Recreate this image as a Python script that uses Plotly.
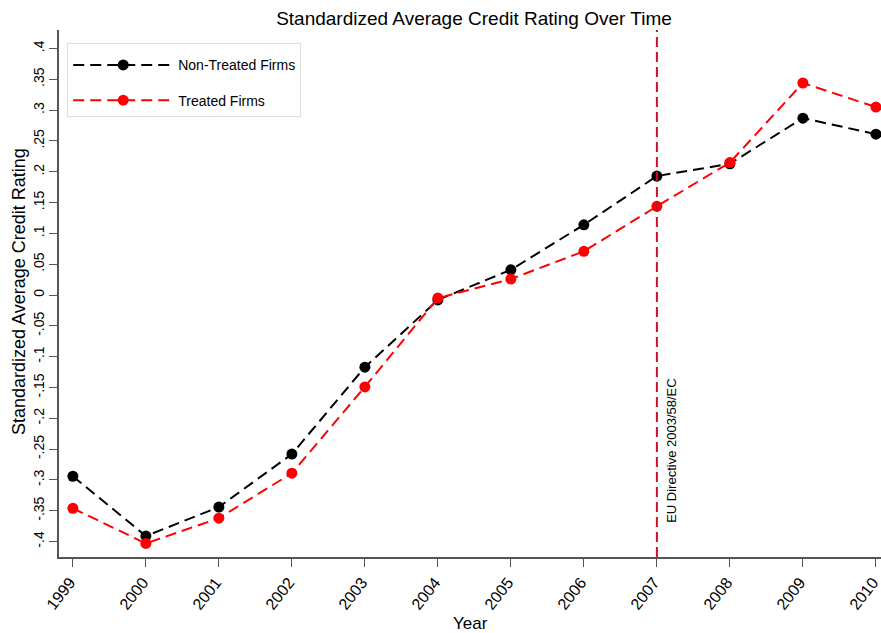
import plotly.graph_objects as go

# Data
years = [1999, 2000, 2001, 2002, 2003, 2004, 2005, 2006, 2007, 2008, 2009, 2010]
non_treated = [-0.294, -0.391, -0.344, -0.258, -0.117, -0.008, 0.041, 0.114, 0.193, 0.213, 0.287, 0.261]
treated = [-0.346, -0.403, -0.362, -0.289, -0.149, -0.005, 0.026, 0.071, 0.144, 0.215, 0.344, 0.305]

y_tickvals = [0.4, 0.35, 0.3, 0.25, 0.2, 0.15, 0.1, 0.05, 0, -0.05, -0.1, -0.15, -0.2, -0.25, -0.3, -0.35, -0.4]
y_ticktext = [".4", ".35", ".3", ".25", ".2", ".15", ".1", ".05", "0", "-.05", "-.1", "-.15", "-.2", "-.25", "-.3", "-.35", "-.4"]

event_year = 2007
event_label = "EU Directive 2003/58/EC"

FONT = "Liberation Sans, Arial, sans-serif"
AXIS_COLOR = "#555555"

fig = go.Figure()

fig.add_trace(go.Scatter(
    x=years, y=non_treated, mode="lines+markers", name="Non-Treated Firms",
    legendgroup="a",
    line=dict(color="black", width=2, dash="11px,6px"),
    marker=dict(color="black", size=11),
))
fig.add_trace(go.Scatter(
    x=years, y=treated, mode="lines+markers", name="Treated Firms",
    legendgroup="b",
    line=dict(color="#ff0000", width=2, dash="11px,6px"),
    marker=dict(color="#ff0000", size=11),
))

# event line
fig.add_shape(
    type="line", x0=event_year, x1=event_year, y0=0, y1=1, yref="paper",
    line=dict(color="#c8102e", width=2, dash="10px,5px"),
)
fig.add_annotation(
    x=event_year, y=-0.373, text=event_label, showarrow=False, textangle=-90,
    xanchor="left", yanchor="bottom", xshift=5,
    font=dict(size=13, color="black", family=FONT),
)

# axis titles
fig.add_annotation(
    x=(470 - 59) / 822, xref="paper", y=-(623 - 557) / 527, yref="paper",
    text="Year", showarrow=False, font=dict(size=17), xanchor="center", yanchor="middle",
)
fig.add_annotation(
    x=-(59 - 19) / 822, xref="paper", y=(557 - 292) / 527, yref="paper",
    text="Standardized Average Credit Rating", showarrow=False, textangle=-90,
    font=dict(size=18), xanchor="center", yanchor="middle",
)

fig.update_layout(
    width=881, height=633,
    paper_bgcolor="white", plot_bgcolor="white",
    font=dict(family=FONT, color="black", size=12),
    title=dict(text="Standardized Average Credit Rating Over Time", x=0.538, xanchor="center",
               y=0.971, yanchor="middle", font=dict(size=19)),
    margin=dict(l=59, r=0, t=30, b=76),
    showlegend=True,
    legend=dict(
        x=0.01, y=0.975, xanchor="left", yanchor="top",
        bgcolor="white", bordercolor="#dddddd", borderwidth=1,
        font=dict(size=14), itemwidth=100, tracegroupgap=14,
        entrywidth=238, entrywidthmode="pixels",
        title=dict(text=" ", font=dict(size=4)),
    ),
    xaxis=dict(
        range=[1998.81, 2010.07], tickvals=years, tickangle=-52,
        showline=True, linecolor=AXIS_COLOR, linewidth=1.5, mirror=False,
        ticks="outside", ticklen=8, tickcolor=AXIS_COLOR,
        showgrid=False, zeroline=False, automargin=False,
        tickfont=dict(size=16), ticklabeloverflow="allow", ticklabelshift=-3,
    ),
    yaxis=dict(
        range=[-0.425, 0.43], tickvals=y_tickvals, ticktext=y_ticktext, tickangle=-90,
        showline=True, linecolor=AXIS_COLOR, linewidth=1.5,
        ticks="outside", ticklen=8, tickcolor=AXIS_COLOR,
        showgrid=False, zeroline=False, automargin=False,
        tickfont=dict(size=14),
    ),
)

fig.write_html("out.html", config={"displayModeBar": False},
               post_script="document.body.style.margin='0';")
